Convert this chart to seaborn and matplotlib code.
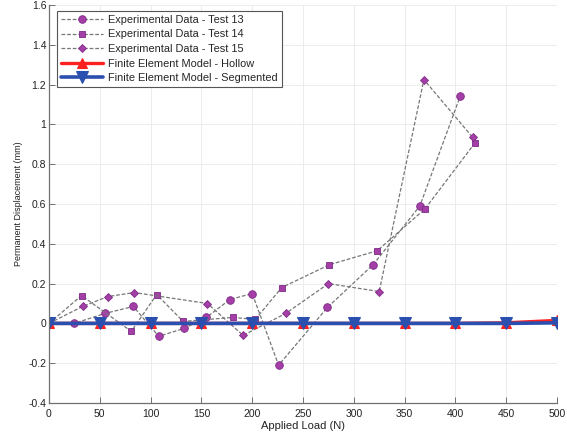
import matplotlib
matplotlib.use("Agg")
import matplotlib.pyplot as plt
from matplotlib.ticker import FuncFormatter
import seaborn as sns
import pandas as pd

# Experimental permanent displacement (mm) vs applied load (N)
load_t13 = [0, 25, 55, 83, 108, 133, 155, 178, 200, 226, 274, 319, 365, 405]
disp_t13 = [0, 0, 0.05, 0.085, -0.065, -0.025, 0.03, 0.12, 0.15, -0.21, 0.08, 0.295, 0.59, 1.145]

load_t14 = [0, 32, 81, 106, 132, 181, 203, 229, 276, 323, 370, 419]
disp_t14 = [0, 0.14, -0.04, 0.145, 0.01, 0.03, 0.02, 0.18, 0.295, 0.365, 0.575, 0.905]

load_t15 = [0, 33, 58, 84, 156, 191, 233, 275, 325, 369, 417]
disp_t15 = [0, 0.085, 0.135, 0.155, 0.10, -0.06, 0.05, 0.20, 0.16, 1.225, 0.935]

# Finite element predictions
fe_load = [0, 50, 100, 150, 200, 250, 300, 350, 400, 450, 500]
fe_hollow = [0, 0, 0, 0, 0, 0, 0, 0, 0, 0.003, 0.015]
fe_segmented = [0, 0, 0, 0, 0, 0, 0, 0, 0, 0, 0.003]

labels = [
    "Experimental Data - Test 13",
    "Experimental Data - Test 14",
    "Experimental Data - Test 15",
    "Finite Element Model - Hollow",
    "Finite Element Model - Segmented",
]

sns.set_theme(style="whitegrid")
plt.rcParams["font.family"] = ["Liberation Sans", "DejaVu Sans"]

fig = plt.figure(figsize=(5.67, 4.36), dpi=100)
ax = fig.add_axes([49 / 567, 1 - 403 / 436, 508 / 567, 398 / 436])

purple = "#a43fa8"
purple_edge = "#7d2a86"
dash_col = "#777777"

exp_sets = [
    (load_t13, disp_t13, "o", 5.5),
    (load_t14, disp_t14, "s", 5),
    (load_t15, disp_t15, "D", 4.5),
]
for (x, y, mk, ms), lab in zip(exp_sets, labels[:3]):
    df = pd.DataFrame({"load": x, "disp": y})
    sns.lineplot(data=df, x="load", y="disp", ax=ax, sort=False, estimator=None,
                 color=dash_col, linestyle=(0, (3, 1.5)), linewidth=0.9,
                 marker=mk, markersize=ms, markerfacecolor=purple,
                 markeredgecolor=purple_edge, markeredgewidth=0.6, label=lab)

df_h = pd.DataFrame({"load": fe_load, "disp": fe_hollow})
sns.lineplot(data=df_h, x="load", y="disp", ax=ax, sort=False, estimator=None,
             color="#ff2020", linewidth=2.4, marker="^", markersize=6.5,
             markerfacecolor="#ff2020", markeredgecolor="#ff2020", label=labels[3])
df_s = pd.DataFrame({"load": fe_load, "disp": fe_segmented})
sns.lineplot(data=df_s, x="load", y="disp", ax=ax, sort=False, estimator=None,
             color="#2b4fae", linewidth=2.6, marker="v", markersize=8.5,
             markerfacecolor="#2b4fae", markeredgecolor="#2b4fae", label=labels[4])

ax.set_xlim(0, 500)
ax.set_ylim(-0.4, 1.6)
ax.set_xticks(range(0, 501, 50))
ax.set_yticks([-0.4, -0.2, 0, 0.2, 0.4, 0.6, 0.8, 1.0, 1.2, 1.4, 1.6])
ax.yaxis.set_major_formatter(FuncFormatter(lambda v, p: f"{v:g}"))

ax.set_facecolor("white")
ax.grid(True, color="#ececec", linewidth=0.7)
for side in ("top", "right"):
    ax.spines[side].set_visible(False)
for side in ("left", "bottom"):
    ax.spines[side].set_color("#707070")
    ax.spines[side].set_linewidth(0.9)
ax.tick_params(axis="both", direction="in", length=4, width=0.7, color="#707070",
               labelsize=7.5, labelcolor="#222222", pad=2)
ax.tick_params(axis="x", pad=4)
ax.tick_params(left=True, bottom=True)

ax.set_xlabel("Applied Load (N)", fontsize=8, color="#222222", labelpad=2)
ax.set_ylabel("Permanent Displacement (mm)", fontsize=6.5, color="#222222", labelpad=4)

leg = ax.legend(loc="upper left", bbox_to_anchor=(0.016, 0.985), fontsize=7.9,
                frameon=True, fancybox=False, edgecolor="#555555",
                handlelength=3.8, handletextpad=0.5, labelspacing=0.42,
                borderpad=0.35, borderaxespad=0)
leg.get_frame().set_linewidth(0.8)
leg.get_frame().set_facecolor("white")
leg.get_frame().set_alpha(1)

fig.savefig("out.png", dpi=100, facecolor="white")
